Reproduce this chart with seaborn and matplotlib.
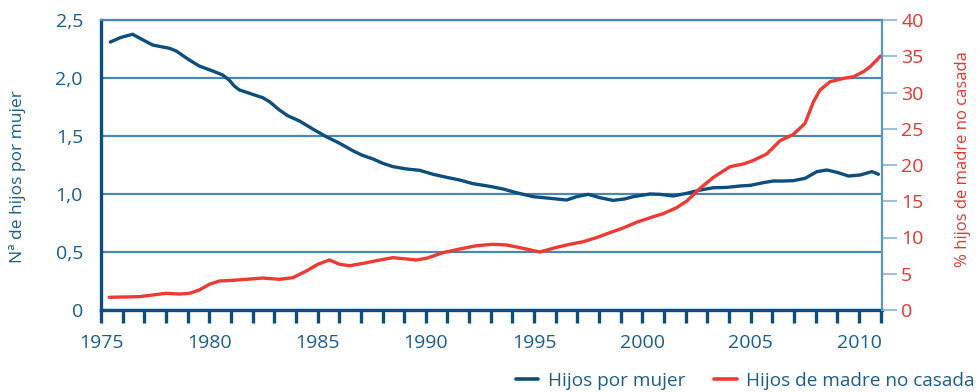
import matplotlib
matplotlib.use("Agg")
import matplotlib.pyplot as plt
from matplotlib.lines import Line2D
from matplotlib.ticker import FixedLocator, FixedFormatter
import pandas as pd
import seaborn as sns

# Total fertility rate (children per woman)
fert_years = [1975.43, 1975.92, 1976.46, 1976.92, 1977.39, 1978.16, 1978.47, 1979.08,
              1979.54, 1980.16, 1980.62, 1980.93, 1981.16, 1981.39, 1981.86, 1982.47,
              1982.78, 1983.24, 1983.62, 1984.17, 1984.78, 1985.40, 1986.02, 1986.63,
              1987.05, 1987.56, 1988.02, 1988.48, 1989.10, 1989.72, 1990.33, 1990.95,
              1991.56, 1992.18, 1992.95, 1993.57, 1994.19, 1994.95, 1995.73, 1996.50,
              1996.96, 1997.50, 1998.04, 1998.65, 1999.20, 1999.58, 2000.35, 2000.81,
              2001.43, 2002.05, 2002.66, 2003.28, 2003.90, 2004.51, 2005.00, 2005.59,
              2006.05, 2006.51, 2006.97, 2007.51, 2008.06, 2008.52, 2008.98, 2009.52,
              2010.06, 2010.60, 2010.90]
fert_values = [2.31, 2.35, 2.377, 2.33, 2.284, 2.256, 2.233, 2.155,
               2.103, 2.06, 2.026, 1.98, 1.93, 1.897, 1.868, 1.83,
               1.796, 1.724, 1.675, 1.629, 1.56, 1.494, 1.437, 1.373,
               1.335, 1.302, 1.264, 1.236, 1.216, 1.204, 1.17, 1.144,
               1.121, 1.089, 1.066, 1.043, 1.011, 0.977, 0.963, 0.948,
               0.977, 0.997, 0.968, 0.945, 0.958, 0.977, 1.0, 0.997,
               0.983, 1.006, 1.034, 1.054, 1.057, 1.069, 1.075, 1.098,
               1.112, 1.112, 1.115, 1.135, 1.193, 1.207, 1.187, 1.155,
               1.164, 1.193, 1.17]

# Share of births to unmarried mothers (%)
unmarried_years = [1975.38, 1976.77, 1977.39, 1978.00, 1978.62, 1979.08, 1979.54, 1980.00,
                   1980.47, 1981.10, 1981.70, 1982.47, 1983.24, 1983.86, 1984.48, 1985.01,
                   1985.55, 1986.02, 1986.48, 1987.05, 1987.71, 1988.48, 1989.56, 1990.03,
                   1990.79, 1991.56, 1992.34, 1993.10, 1993.72, 1994.49, 1995.26, 1996.04,
                   1996.65, 1997.27, 1997.88, 1998.50, 1999.10, 1999.73, 2000.50, 2000.96,
                   2001.58, 2002.05, 2002.66, 2003.28, 2004.05, 2004.66, 2005.10, 2005.74,
                   2006.36, 2006.97, 2007.51, 2007.90, 2008.20, 2008.67, 2009.29, 2009.75,
                   2010.21, 2010.52, 2011.00]
unmarried_values = [1.75, 1.84, 2.07, 2.3, 2.2, 2.3, 2.76, 3.54,
                    4.0, 4.09, 4.23, 4.41, 4.23, 4.46, 5.38, 6.3,
                    6.9, 6.3, 6.11, 6.4, 6.8, 7.22, 6.9, 7.13,
                    7.91, 8.41, 8.87, 9.06, 8.97, 8.51, 8.0, 8.64,
                    9.06, 9.42, 9.98, 10.67, 11.3, 12.1, 12.87, 13.29,
                    14.11, 15.03, 16.78, 18.3, 19.77, 20.14, 20.6, 21.52,
                    23.36, 24.23, 25.75, 28.73, 30.34, 31.49, 31.95, 32.18,
                    32.87, 33.56, 35.03]

x_major = [1975, 1980, 1985, 1990, 1995, 2000, 2005, 2010]
left_ticks = [0, 0.5, 1.0, 1.5, 2.0, 2.5]
left_labels = ["0", "0,5", "1,0", "1,5", "2,0", "2,5"]
right_ticks = [0, 5, 10, 15, 20, 25, 30, 35, 40]

series_names = ["Hijos por mujer", "Hijos de madre no casada"]
left_title = "Nª de hijos por mujer"
right_title = "% hijos de madre no casada"

DARK = "#0d4f7c"
TEXT_BLUE = "#1b5e8b"
RED = "#ee3a32"
RED_TEXT = "#e5372e"
GRID = "#4a87b1"
RIGHT_SPINE = "#5d96c2"
RIGHT_TICK = "#9dc0dd"

sns.set_theme(style="white")
plt.rcParams["font.family"] = ["Open Sans", "DejaVu Sans"]

fert_df = pd.DataFrame({"year": fert_years, "value": fert_values})
unm_df = pd.DataFrame({"year": unmarried_years, "value": unmarried_values})

fig = plt.figure(figsize=(9.77, 3.92), dpi=100)
ax = fig.add_axes([101 / 977, 1 - 310 / 392, 780.7 / 977, 290 / 392])
ax2 = ax.twinx()

sns.lineplot(data=fert_df, x="year", y="value", ax=ax, color=DARK, lw=2.4,
             estimator=None, sort=True)
sns.lineplot(data=unm_df, x="year", y="value", ax=ax2, color=RED, lw=2.4,
             estimator=None, sort=True)
for line in ax.lines + ax2.lines:
    line.set_solid_joinstyle("round")
    line.set_solid_capstyle("round")

ax.set_xlim(1975, 2011.05)
ax.set_ylim(0, 2.5)
ax2.set_ylim(0, 40)

ax.set_xticks(x_major)
ax.set_xticklabels([str(y) for y in x_major])
ax.xaxis.set_minor_locator(FixedLocator([y for y in range(1976, 2012) if y not in x_major]))
ax.yaxis.set_major_locator(FixedLocator(left_ticks))
ax.yaxis.set_major_formatter(FixedFormatter(left_labels))
ax2.set_yticks(right_ticks)

ax.set_xlabel("")
ax.set_ylabel("")
ax2.set_ylabel("")

ax.yaxis.grid(True, color=GRID, lw=1.6)
ax.xaxis.grid(False)

for name, sp in ax.spines.items():
    sp.set_visible(name in ("left", "bottom", "top"))
ax.spines["left"].set_color(DARK)
ax.spines["left"].set_linewidth(2.4)
ax.spines["bottom"].set_color(DARK)
ax.spines["bottom"].set_linewidth(2.4)
ax.spines["top"].set_color(GRID)
ax.spines["top"].set_linewidth(1.6)
for name, sp in ax2.spines.items():
    sp.set_visible(name == "right")
ax2.spines["right"].set_color(RIGHT_SPINE)
ax2.spines["right"].set_linewidth(1.6)

ax.tick_params(axis="x", which="both", direction="out", length=9, width=2.4,
               color=DARK, labelcolor=TEXT_BLUE, labelsize=14, pad=8, bottom=True)
ax.tick_params(axis="y", length=0, pad=13, labelcolor=TEXT_BLUE, labelsize=14)
ax2.tick_params(axis="y", direction="out", length=11, width=1.5, color=RIGHT_TICK,
                labelcolor=RED_TEXT, labelsize=14, pad=3, right=True)

fig.text(18 / 977, 1 - 177 / 392, left_title, rotation=90, ha="center", va="center",
         color=TEXT_BLUE, fontsize=12.5)
fig.text(963 / 977, 1 - 159 / 392, right_title, rotation=90, ha="center", va="center",
         color=RED_TEXT, fontsize=12)

handles = [Line2D([], [], color=DARK, lw=2.6), Line2D([], [], color=RED, lw=2.6)]
leg = fig.legend(handles, series_names, loc="center right",
                 bbox_to_anchor=(975 / 977, 1 - 381 / 392), ncol=2, frameon=False,
                 fontsize=13.7, handlelength=1.2, handletextpad=0.52, columnspacing=1.47,
                 borderaxespad=0, borderpad=0)
for t in leg.get_texts():
    t.set_color(TEXT_BLUE)

fig.savefig("out.png", dpi=100)
